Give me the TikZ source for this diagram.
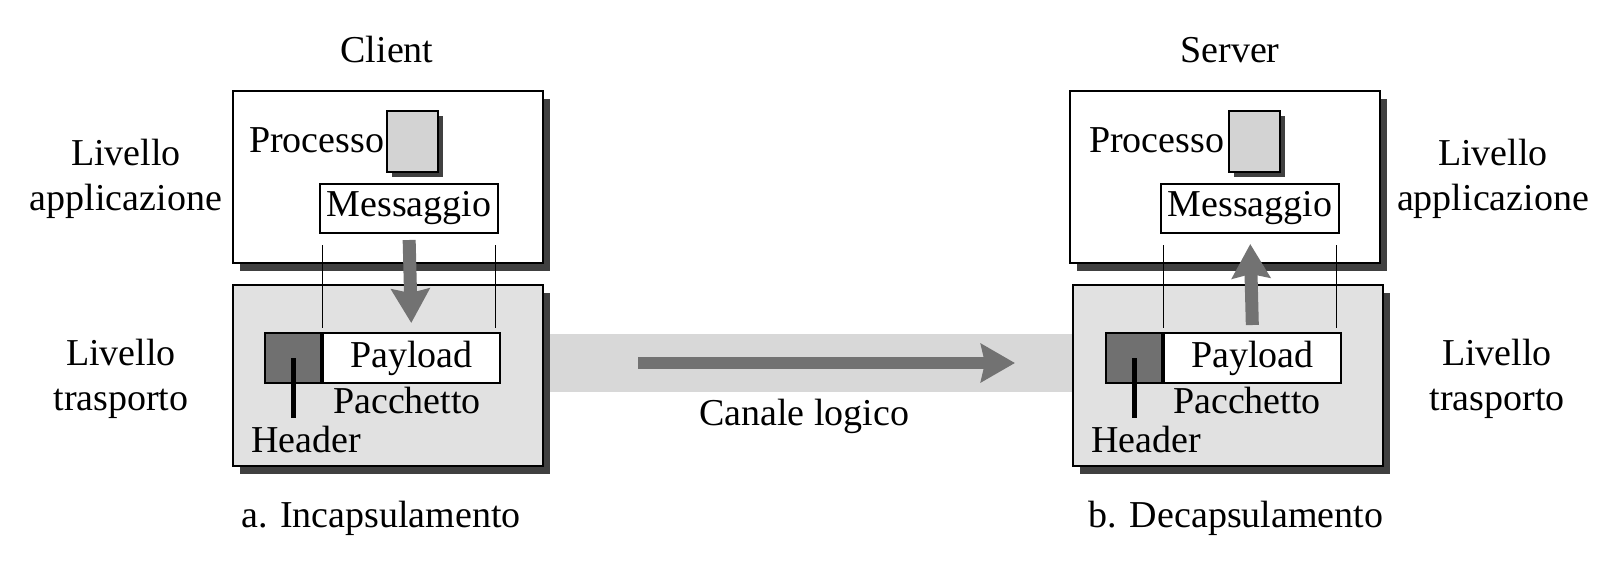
\documentclass[tikz,border=0pt]{standalone}
\usepackage{fontspec}
\setmainfont{Liberation Serif}
\usetikzlibrary{arrows.meta,positioning,shadows}
\definecolor{layergray}{RGB}{225,225,225}
\definecolor{bandgray}{RGB}{216,216,216}
\definecolor{procgray}{RGB}{211,211,211}
\definecolor{hdrgray}{RGB}{112,112,112}
\definecolor{arrowgray}{RGB}{114,114,114}
\definecolor{shadowgray}{RGB}{64,64,64}
\begin{document}
\begin{tikzpicture}[x=0.5pt,y=-0.5pt,
  every node/.style={font=\fontsize{19pt}{22.5pt}\selectfont},
  layer/.style={draw,line width=1pt,inner sep=0pt,anchor=north west,
    minimum width=155pt,
    drop shadow={shadow xshift=3.5pt,shadow yshift=-4pt,fill=shadowgray,opacity=1}},
  procbox/.style={draw,line width=1pt,fill=procgray,inner sep=0pt,anchor=north west,
    minimum width=25.5pt,minimum height=30.5pt,
    drop shadow={shadow xshift=2.5pt,shadow yshift=-2.5pt,fill=shadowgray,opacity=1}},
  msgbox/.style={draw,line width=1pt,fill=white,inner sep=0pt,anchor=north west,
    minimum width=89pt,minimum height=24.5pt},
  hdrbox/.style={draw,line width=1pt,fill=hdrgray,inner sep=0pt,anchor=north west,
    minimum width=28pt,minimum height=25pt},
  paybox/.style={draw,line width=1pt,fill=white,inner sep=0pt,
    minimum width=88.5pt,minimum height=25pt},
  bigarrow/.style={draw=arrowgray,line width=6.5pt,-{Stealth[width=19pt,length=17pt,inset=2pt]}},
  guide/.style={draw,line width=0.5pt},
  hdrline/.style={draw,line width=2.5pt},
  twoline/.style={align=center,inner sep=0pt,anchor=north}]

\useasboundingbox (0,0) rectangle (1623,574);

% canale logico
\node[fill=bandgray,inner sep=0pt,minimum width=265pt,minimum height=29pt,anchor=west] (chan) at (542,363) {};
\coordinate (chanA) at (638,363);
\coordinate (chanB) at (1015,363);
\draw[bigarrow,line width=6pt] (chanA) -- (chanB);
\node[anchor=base] (chanlbl) at (804,425) {Canale logico};

% client
\node[anchor=base] (client) at (387,62) {Client};
\node[layer,fill=white,minimum height=86pt] (appL) at (232,90) {};
\node[layer,fill=layergray,minimum height=90.5pt] (trL) at (232,284) {};
\node[procbox] (procL) at (386,110) {};
\node[anchor=base west] (procLtxt) at (242,152) {Processo};
\node[msgbox] (msgL) at (319,183) {Messaggio};
\node[hdrbox] (hdrL) at (264,332) {};
\node[paybox,right=0pt of hdrL] (payL) {Payload};
\node[anchor=base] (pacL) at (407,413) {Pacchetto};
\node[anchor=base west] (hdrLtxt) at (244,452) {Header};
\coordinate (hdrLend) at ([yshift=-30pt]hdrL.center);
\draw[hdrline] (hdrL.center) -- (hdrLend);
\draw[guide,shorten <=5.5pt,shorten >=2pt] ([xshift=1.5pt]msgL.south west) -- ([xshift=1.5pt]msgL.south west |- payL.north);
\draw[guide,shorten <=5.5pt,shorten >=2pt] ([xshift=-2pt]msgL.south east) -- ([xshift=-2pt]msgL.south east |- payL.north);
\draw[bigarrow,shorten <=3pt,shorten >=4.5pt] (msgL.south) -- (payL.north);
\node[twoline] (appLlbl) at (126,139) {Livello\\applicazione};
\node[twoline] (trLlbl) at (121,339) {Livello\\trasporto};
\node[anchor=base] (capA) at (381,527) {a. Incapsulamento};

% server
\node[anchor=base] (server) at (1230,62) {Server};
\node[layer,fill=white,minimum height=86pt] (appR) at (1069,90) {};
\node[layer,fill=layergray,minimum height=90.5pt] (trR) at (1072,284) {};
\node[procbox] (procR) at (1228,110) {};
\node[anchor=base west] (procRtxt) at (1082,152) {Processo};
\node[msgbox] (msgR) at (1160,183) {Messaggio};
\node[hdrbox] (hdrR) at (1105,332) {};
\node[paybox,right=0pt of hdrR] (payR) {Payload};
\node[anchor=base] (pacR) at (1247,413) {Pacchetto};
\node[anchor=base west] (hdrRtxt) at (1084,452) {Header};
\coordinate (hdrRend) at ([yshift=-30pt]hdrR.center);
\draw[hdrline] (hdrR.center) -- (hdrRend);
\draw[guide,shorten <=5.5pt,shorten >=2pt] ([xshift=1.5pt]msgR.south west) -- ([xshift=1.5pt]msgR.south west |- payR.north);
\draw[guide,shorten <=5.5pt,shorten >=2pt] ([xshift=-2pt]msgR.south east) -- ([xshift=-2pt]msgR.south east |- payR.north);
\draw[bigarrow,shorten <=3.5pt,shorten >=5pt] (payR.north) -- (msgR.south);
\node[twoline] (appRlbl) at (1493,139) {Livello\\applicazione};
\node[twoline] (trRlbl) at (1497,339) {Livello\\trasporto};
\node[anchor=base] (capB) at (1236,527) {b. Decapsulamento};
\end{tikzpicture}
\end{document}
